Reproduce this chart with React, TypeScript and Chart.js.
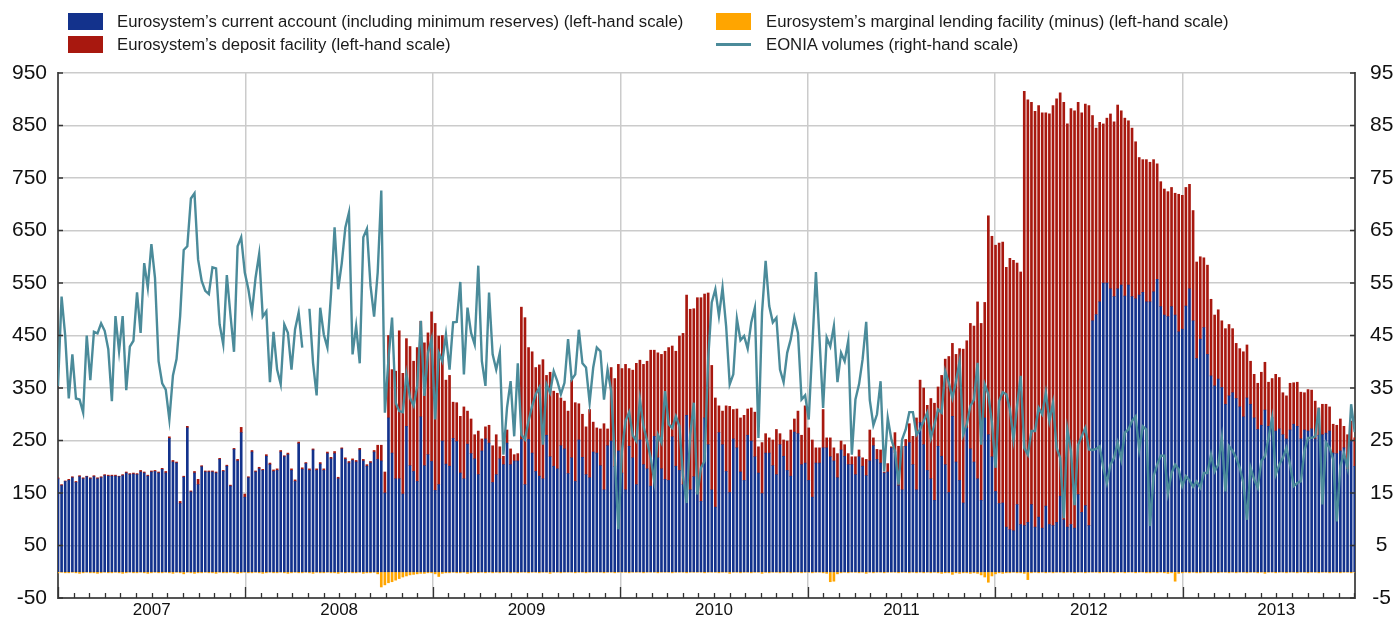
import React, { useEffect, useRef } from 'react';
import { Chart, registerables } from 'chart.js';

Chart.register(...registerables);

// ---- Data (weekly observations, first week of January 2007 onwards) ----
const FIRST_YEAR = 2007;

const currentAccount = [
  177,164,172,174,179,170,181,177,181,177,
  181,177,179,183,182,182,182,181,183,188,
  185,186,185,190,188,182,190,191,188,195,
  188,254,209,207,130,180,274,152,188,166,
  200,190,190,190,188,214,191,201,163,233,
  211,265,142,179,228,190,196,193,220,204,
  191,
  193,228,219,223,193,172,244,195,206,
  193,232,193,205,193,225,215,225,177,234,
  214,207,212,209,232,211,201,207,228,214,
  211,
  150,293,226,177,177,148,277,202,191,
  172,295,202,223,210,155,166,249,205,201,
  254,248,188,177,243,225,215,185,230,253,
  245,
  170,185,215,204,245,204,211,211,252,
  166,252,226,191,182,177,260,219,201,196,
  240,234,187,217,172,251,218,185,179,228,
  226,202,156,240,249,201,230,188,156,239,
  217,166,251,204,196,163,258,217,196,176,
  174,257,201,193,166,298,156,181,150,134,
  293,242,
  156,123,265,242,191,151,253,236,
  190,174,260,249,219,188,149,226,226,202,
  185,242,220,193,182,266,263,204,207,174,
  142,207,207,236,236,219,211,179,232,220,
  204,204,185,219,201,183,211,240,214,207,
  188,190,236,228,164,156,239,246,204,156,
  284,242,
  193,177,136,239,220,204,151,296,
  209,174,131,274,234,209,177,136,293,261,
  219,153,130,131,85,80,78,128,90,88,
  94,128,85,104,83,125,90,88,94,144,
  99,85,90,83,147,113,126,88,478,490,
  514,550,550,539,524,539,546,525,546,524,
  520,527,532,
  514,514,533,557,505,489,486,
  505,489,457,462,506,539,478,406,443,465,
  414,373,354,367,351,319,335,341,330,314,
  295,331,319,293,271,279,308,277,293,268,
  272,261,253,270,281,277,253,270,268,272,
  253,260,261,264,268,226,225,230,236,195,
  249,201,
];

const depositFacility = [
  2,2,1,2,2,2,2,2,1,2,
  2,2,2,2,2,2,2,1,2,2,
  2,2,2,3,2,2,2,2,2,2,
  3,3,3,2,4,2,3,2,3,10,
  2,2,2,2,2,2,2,2,2,2,
  3,10,6,2,3,2,3,2,3,3,
  3,
  3,3,2,3,3,3,3,3,2,
  3,2,3,3,3,3,3,4,3,2,
  3,3,3,3,3,3,3,3,3,27,
  30,
  40,157,159,205,282,230,167,227,210,
  255,182,234,232,285,318,283,201,160,173,
  69,74,108,137,63,66,46,83,23,23,
  34,
  70,76,23,16,25,30,12,14,252,
  318,175,193,198,212,227,114,161,143,144,
  91,91,119,148,150,69,82,91,130,57,
  48,70,126,32,140,167,165,199,239,148,
  167,231,152,191,205,259,164,200,218,244,
  253,173,219,256,288,229,344,320,372,388,
  236,289,
  237,208,51,64,125,164,56,74,
  103,124,50,63,85,50,97,37,29,49,
  86,21,31,56,88,25,43,56,109,100,
  109,29,29,73,19,36,25,46,17,22,
  21,15,34,13,16,31,59,15,19,25,
  2,16,2,37,75,83,13,36,54,137,
  81,108,
  124,153,185,113,154,201,259,139,
  205,251,293,166,239,259,337,337,220,417,
  420,469,496,497,495,517,515,460,481,827,
  805,766,792,784,791,749,782,800,807,768,
  795,768,792,795,747,761,765,800,391,355,
  342,303,314,333,333,350,332,339,313,321,
  299,262,253,
  271,266,252,220,238,240,238,
  227,232,262,255,226,199,210,184,157,133,
  170,146,135,132,127,144,136,122,105,111,
  124,101,82,83,88,101,91,84,75,108,
  98,80,82,89,79,84,89,71,79,74,
  72,52,58,55,46,55,54,61,41,66,
  38,54,
];

const marginalLending = [
  -2,-1,-2,-2,-1,-2,-3,-2,-1,-2,
  -2,-3,-2,-1,-2,-2,-1,-2,-3,-2,
  -1,-2,-2,-1,-2,-3,-2,-1,-2,-2,
  -1,-2,-3,-1,-2,-4,-1,-2,-3,-2,
  -2,-1,-2,-2,-3,-1,-2,-2,-1,-2,
  -3,-2,-1,-2,-2,-1,-2,-3,-2,-1,
  -2,-2,-1,-2,-3,-2,-1,-2,-2,-1,
  -2,-3,-1,-2,-2,-1,-2,-2,-3,-1,
  -2,-1,-2,-2,-1,-3,-2,-2,-1,-4,
  -29,-25,-21,-19,-16,-13,-10,-8,-6,-5,
  -4,-3,-3,-2,-2,-4,-9,-3,-2,-2,
  -1,-2,-2,-1,-3,-2,-1,-2,-1,-2,
  -1,-2,-1,-2,-1,-1,-2,-1,-2,-1,
  -1,-2,-1,-1,-2,-1,-1,-3,-1,-1,
  -2,-1,-1,-1,-2,-1,-1,-2,-1,-1,
  -1,-1,-2,-1,-1,-2,-1,-1,-1,-2,
  -1,-1,-1,-2,-1,-1,-1,-2,-1,-1,
  -1,-2,-1,-1,-1,-2,-1,-1,-1,-1,
  -2,-1,-1,-1,-2,-1,-1,-3,-1,-1,
  -2,-1,-1,-2,-1,-1,-3,-1,-2,-1,
  -1,-2,-1,-1,-2,-1,-1,-2,-1,-1,
  -2,-1,-1,-2,-3,-19,-18,-4,-2,-1,
  -2,-1,-1,-2,-1,-3,-1,-2,-1,-1,
  -2,-1,-1,-1,-2,-1,-1,-2,-1,-2,
  -1,-2,-1,-2,-1,-2,-3,-2,-2,-5,
  -2,-3,-2,-2,-3,-2,-3,-6,-10,-20,
  -8,-4,-2,-3,-2,-2,-1,-2,-2,-3,
  -15,-2,-1,-2,-1,-2,-1,-2,-1,-1,
  -2,-1,-1,-2,-1,-1,-2,-1,-1,-1,
  -2,-1,-1,-1,-2,-1,-1,-2,-1,-1,
  -2,-1,-1,-2,-2,-1,-2,-1,-2,-3,
  -2,-18,-3,-2,-1,-2,-1,-2,-2,-1,
  -1,-2,-1,-2,-1,-1,-2,-1,-2,-1,
  -1,-2,-1,-1,-2,-1,-3,-1,-1,-2,
  -1,-1,-2,-1,-1,-2,-1,-1,-2,-1,
  -1,-2,-1,-1,-2,-1,-1,-2,-1,-1,
  -2,-1,
];

const eoniaVolumes: (number | null)[] = [
  35.4,52.4,45,33,41.4,33,32.8,30.3,45,36.5,
  45.7,45.4,47.3,45.9,42.4,32.5,48.7,42,48.7,34.6,
  42.9,44,53.2,45.5,58.8,54.1,62.4,56,40.1,35.9,
  34.7,29,37.4,40.5,48.7,61.3,62,71.1,72.1,59.5,
  55.4,53.5,52.9,58,57.8,47.1,43.3,56.5,49,41.9,
  62,63.7,57,53.8,49.4,56,60.5,48.6,49.6,36.1,
  45.7,
  38.5,35.7,47.1,45.5,38.5,46.2,49.4,42.7,null,
  50.1,39.8,33.6,50.3,45.2,42.7,52.9,65.6,53.8,58.8,
  65.6,68.4,41.4,46.8,39.7,63.7,65.3,54.5,48.6,57,
  72.6,30.3,40.5,48.4,32.2,30.6,30.4,37.6,33.1,31.6,
  35.4,47.8,33.5,41.7,44.3,29,41.7,40.1,45.2,38.5,
  47.5,47.6,55.2,37.6,50.3,45.5,43.3,58.3,40.1,35.4,
  53.2,
  41.4,38.5,41.7,22.3,31.2,36.3,25.8,39.7,26.1,
  25.2,28.7,31.6,33.8,35.1,24.2,35.7,34.1,38.2,36.3,
  33.8,36,44.3,36.6,37.6,46.1,39.7,38.9,32.2,38.9,
  42.7,42,32.8,38.5,34.4,21.7,8.1,23,28.7,30.4,
  26,24.9,32.8,27.7,24.9,21.7,17.2,26.1,24.6,34.4,
  28.1,27.4,29.6,27.7,18.2,13.1,26.1,32.2,14.7,19.8,
  21.1,40.5,
  51.3,53.8,48.7,54.1,46.8,35.7,37.6,48.2,
  44.1,44.9,42.5,47.5,50.3,25.5,49.4,59.2,50.6,47.5,
  48.4,38.5,36.1,41.7,44.3,48.4,45.5,32.8,33.6,29,
  42.9,57.1,44.3,31.2,44.6,42.9,46.8,36.1,41.7,40.1,
  44,22.3,32.8,35.7,40.5,47.6,32.7,27.9,30,36.3,
  19.1,29.3,25.2,23,16.6,25.2,27.1,30.4,30.4,26.1,
  27.1,28.7,
  30.3,25.5,28.1,30.9,30.3,38.2,36,33.1,
  36.3,40.1,26.1,28.1,31.6,32.8,39.8,24.2,35.7,33.8,
  28.4,19.8,32.5,34.2,33.8,30.9,25.2,31.6,37.3,23.6,
  22.3,26.8,26.8,31.2,30,34.1,28.7,32.2,23.6,21.7,
  10.2,27.1,23,12.7,24.2,25.8,27.4,23.3,23.2,23.4,
  23.9,19.8,16.9,20.4,21.7,24.6,21.4,26.5,27.1,28.7,
  29.6,23.3,27.7,
  27.1,8.7,18.2,20.4,22.1,22.1,15,
  18.8,20.4,19.5,16.3,18.2,17.4,16.2,17.2,16,18.8,
  18.8,22.3,19.1,20.4,25.5,15.3,23.9,23,21.7,19.8,
  16.9,9.9,19.8,17.6,16,21.1,22,25.5,29.3,18.5,
  20.4,21.7,23.6,20.4,16.3,16.9,17.2,23,25.5,25.5,
  25.8,31.2,12.8,24.6,23.6,21.4,9.6,20.1,22.6,19.8,
  31.9,26.6,
];

const yearLabels = ['2007', '2008', '2009', '2010', '2011', '2012', '2013'];
const leftTicks = [-50, 50, 150, 250, 350, 450, 550, 650, 750, 850, 950];
const rightTicks = [-5, 5, 15, 25, 35, 45, 55, 65, 75, 85, 95];

const legendLabels = [
  'Eurosystem’s current account (including minimum reserves) (left-hand scale)',
  'Eurosystem’s deposit facility (left-hand scale)',
  'Eurosystem’s marginal lending facility (minus) (left-hand scale)',
  'EONIA volumes (right-hand scale)',
];

// ---- Styles ----
const BLUE = '#13328c';
const RED = '#a8180f';
const ORANGE = '#ffa500';
const TEAL = '#4b8b9a';
const GRID = '#cbcbcb';
const AXIS = '#555555';
const FONT = '"Liberation Sans", Arial, Helvetica, sans-serif';

const X_MIN = FIRST_YEAR;
const X_MAX = 2013.92;

// weekly positions expressed in fractional years
const weekPos = currentAccount.map((_, i) => FIRST_YEAR + (i * 7) / 365.25);

const xTickValues: number[] = [];
yearLabels.forEach((_, k) => {
  xTickValues.push(FIRST_YEAR + k);
  xTickValues.push(FIRST_YEAR + k + 0.5);
});

const isWhole = (v: number) => Math.abs(v - Math.round(v)) < 1e-6;

const tickMarksPlugin = {
  id: 'tickMarks',
  afterDraw(chart: any) {
    const { ctx, chartArea: a, scales } = chart;
    const xs = scales.x;
    const yl = scales.y;
    const yr = scales.y1;
    ctx.save();
    ctx.strokeStyle = '#333';
    ctx.lineWidth = 1.3;
    ctx.beginPath();
    yearLabels.forEach((_, k) => {
      for (let m = 0; m < 12; m++) {
        const v = FIRST_YEAR + k + m / 12;
        if (v > xs.max) continue;
        const px = Math.round(xs.getPixelForValue(v)) + 0.5;
        const len = m === 0 ? 11 : 5;
        ctx.moveTo(px, a.bottom);
        ctx.lineTo(px, a.bottom - len);
      }
    });
    leftTicks.forEach((t) => {
      const py = yl.getPixelForValue(t);
      ctx.moveTo(a.left, py);
      ctx.lineTo(a.left + 5, py);
    });
    rightTicks.forEach((t) => {
      const py = yr.getPixelForValue(t);
      ctx.moveTo(a.right, py);
      ctx.lineTo(a.right - 5, py);
    });
    ctx.stroke();
    ctx.restore();
  },
};

export default function App() {
  const canvasRef = useRef<HTMLCanvasElement | null>(null);

  useEffect(() => {
    if (!canvasRef.current) return;
    const toPts = (arr: (number | null)[]) => arr.map((v, i) => ({ x: weekPos[i], y: v }));
    const chart = new Chart(canvasRef.current, {
      type: 'bar',
      data: {
        datasets: [
          {
            type: 'bar',
            label: legendLabels[0],
            data: toPts(currentAccount),
            backgroundColor: BLUE,
            borderWidth: 0,
            barThickness: 2,
            yAxisID: 'y',
            order: 1,
          },
          {
            type: 'bar',
            label: legendLabels[1],
            data: toPts(depositFacility),
            backgroundColor: RED,
            borderWidth: 0,
            barThickness: 2,
            yAxisID: 'y',
            order: 1,
          },
          {
            type: 'bar',
            label: legendLabels[2],
            data: toPts(marginalLending),
            backgroundColor: ORANGE,
            borderWidth: 0,
            barThickness: 2,
            yAxisID: 'y',
            order: 1,
          },
          {
            type: 'line',
            label: legendLabels[3],
            data: toPts(eoniaVolumes),
            borderColor: TEAL,
            borderWidth: 2.4,
            pointRadius: 0,
            tension: 0,
            spanGaps: false,
            yAxisID: 'y1',
            order: 0,
          },
        ] as any,
      },
      options: {
        animation: false,
        responsive: false,
        devicePixelRatio: 1,
        layout: { padding: { top: 73, left: 0, right: 0, bottom: 0 } },
        plugins: { legend: { display: false }, tooltip: { enabled: false } },
        scales: {
          x: {
            type: 'linear',
            min: X_MIN,
            max: X_MAX,
            stacked: true,
            offset: false,
            afterBuildTicks: (s: any) => {
              s.ticks = xTickValues.map((v) => ({ value: v }));
            },
            afterFit: (s: any) => {
              s.height = 23;
              s.paddingLeft = 0;
              s.paddingRight = 0;
            },
            grid: {
              offset: false,
              drawTicks: false,
              lineWidth: 1.5,
              color: (c: any) =>
                c.tick && isWhole(c.tick.value) ? GRID : 'rgba(0,0,0,0)',
            },
            border: { display: true, color: AXIS, width: 2 },
            ticks: {
              autoSkip: false,
              maxRotation: 0,
              padding: 2,
              color: '#111',
              font: { family: FONT, size: 17 },
              callback: (value: any) => {
                const v = Number(value);
                if (isWhole(v)) return '';
                return yearLabels[Math.floor(v) - FIRST_YEAR] ?? '';
              },
            },
          },
          y: {
            type: 'linear',
            position: 'left',
            stacked: true,
            min: -50,
            max: 950,
            afterBuildTicks: (s: any) => {
              s.ticks = leftTicks.map((v) => ({ value: v }));
            },
            afterFit: (s: any) => {
              s.width = 58;
              s.paddingTop = 12;
              s.paddingBottom = 12;
            },
            grid: { color: GRID, lineWidth: 1.5, drawTicks: false },
            border: { display: true, color: AXIS, width: 2 },
            ticks: {
              padding: 11,
              color: '#111',
              font: { family: FONT, size: 21 },
            },
          },
          y1: {
            type: 'linear',
            position: 'right',
            min: -5,
            max: 95,
            afterBuildTicks: (s: any) => {
              s.ticks = rightTicks.map((v) => ({ value: v }));
            },
            afterFit: (s: any) => {
              s.width = 44;
              s.paddingTop = 12;
              s.paddingBottom = 12;
            },
            grid: { drawOnChartArea: false, drawTicks: false },
            border: { display: true, color: AXIS, width: 2 },
            ticks: {
              padding: 15,
              crossAlign: 'center',
              color: '#111',
              font: { family: FONT, size: 21 },
            },
          },
        },
      } as any,
      plugins: [tickMarksPlugin],
    });
    return () => chart.destroy();
  }, []);

  const legendText: React.CSSProperties = {
    position: 'absolute',
    fontSize: 16.7,
    lineHeight: '19px',
    color: '#1a1a1a',
    whiteSpace: 'nowrap',
  };

  return (
    <div
      style={{
        position: 'absolute',
        left: 0,
        top: 0,
        width: 1399,
        height: 621,
        background: '#ffffff',
        fontFamily: FONT,
        overflow: 'hidden',
      }}
    >
      <canvas
        ref={canvasRef}
        width={1399}
        height={621}
        style={{ position: 'absolute', left: 0, top: 0, width: 1399, height: 621 }}
      />
      <div style={{ position: 'absolute', left: 68, top: 13, width: 35, height: 17, background: BLUE }} />
      <div style={{ ...legendText, left: 117, top: 11.5 }}>{legendLabels[0]}</div>
      <div style={{ position: 'absolute', left: 68, top: 36, width: 35, height: 17, background: RED }} />
      <div style={{ ...legendText, left: 117, top: 34.5 }}>{legendLabels[1]}</div>
      <div style={{ position: 'absolute', left: 716, top: 13, width: 35, height: 17, background: ORANGE }} />
      <div style={{ ...legendText, left: 766, top: 11.5 }}>{legendLabels[2]}</div>
      <div style={{ position: 'absolute', left: 716, top: 43, width: 35, height: 3, background: TEAL }} />
      <div style={{ ...legendText, left: 766, top: 34.5 }}>{legendLabels[3]}</div>
    </div>
  );
}
